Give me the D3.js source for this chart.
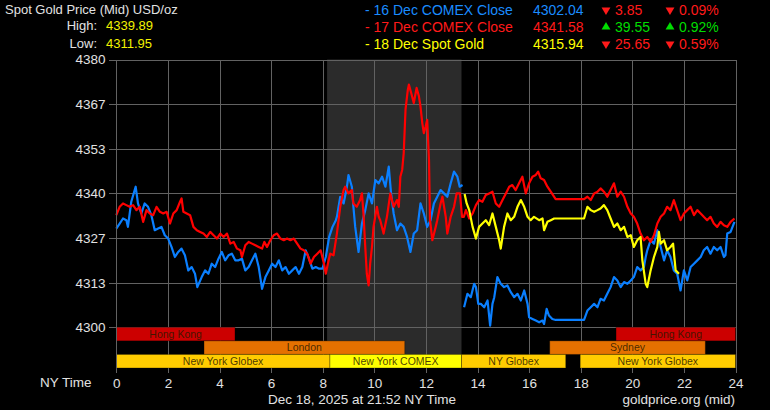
<!DOCTYPE html>
<html><head><meta charset="utf-8">
<script src="https://cdn.jsdelivr.net/npm/d3@7"></script>
<style>
html,body{margin:0;padding:0;background:#000;}
svg{display:block;}
text{font-family:"Liberation Sans",Arial,sans-serif;}
</style></head><body>
<svg id="c" width="770" height="410"></svg>
<script>
// ---------- DATA ----------
const hourTicks = [0,2,4,6,8,10,12,14,16,18,20,22,24];
const priceTicks = [4300, 4313.33, 4326.67, 4340, 4353.33, 4366.67, 4380];
const priceTickLabels = ["4300","4313","4327","4340","4353","4367","4380"];
const comexBand = [8.17, 13.38];

const hongKongRow = [["Hong Kong",0,4.6],["Hong Kong",19.37,24]];
const londonRow = [["London",3.4,11.18],["Sydney",16.8,22.83]];
const newYorkRow = [["New York Globex",0,8.28],["New York COMEX",8.28,13.38],["NY Globex",13.38,17.42],["New York Globex",17.98,24]];

const legendNames = ["- 16 Dec COMEX Close","- 17 Dec COMEX Close","- 18 Dec Spot Gold"];
const legendPrices = ["4302.04","4341.58","4315.94"];
const legendChanges = [-3.85, 39.55, -25.65];
const legendPercents = [-0.09, 0.92, -0.59];
const highLowLabels = ["High:","Low:"];
const highLowValues = ["4339.89","4311.95"];

// 16 Dec (blue) - two segments
const dec16a = [
[0.00,4329.5],[0.13,4331],[0.26,4332.5],[0.39,4332],[0.45,4330],[0.58,4337.5],[0.75,4342],[0.84,4337],[0.97,4334],[1.10,4337],[1.23,4336],[1.36,4333.5],[1.49,4329],[1.62,4329.5],[1.75,4330],[1.88,4327.5],[2.01,4326.5],[2.14,4324],[2.27,4321],[2.40,4322.5],[2.53,4323.5],[2.66,4321.5],[2.79,4317],[2.92,4318],[3.05,4316],[3.14,4312],[3.31,4315],[3.44,4317],[3.57,4316],[3.70,4319],[3.83,4318],[3.96,4320.5],[4.09,4322.5],[4.22,4320],[4.35,4321.5],[4.48,4322],[4.61,4320],[4.74,4320],[4.87,4320.5],[5.00,4317],[5.13,4318],[5.26,4320],[5.39,4322],[5.52,4318],[5.65,4311.5],[5.78,4315],[5.91,4317],[6.04,4319],[6.17,4318],[6.30,4320],[6.43,4317],[6.56,4318],[6.69,4316],[6.82,4317],[6.95,4318],[7.08,4316],[7.21,4318],[7.34,4323],[7.47,4320.5],[7.60,4317.5],[7.73,4318],[7.86,4317.5],[7.99,4317.5],[8.12,4321],[8.25,4327],[8.38,4330],[8.51,4332],[8.55,4333],[8.68,4339],[8.81,4337],[8.94,4342],[9.00,4345.5],[9.13,4342],[9.19,4336],[9.26,4330],[9.39,4322.5],[9.52,4331],[9.65,4335],[9.78,4340],[9.91,4337],[10.04,4344],[10.17,4343],[10.30,4345],[10.43,4342],[10.56,4348],[10.65,4340],[10.75,4334],[10.88,4329],[11.01,4331],[11.14,4330],[11.27,4327],[11.40,4322.5],[11.53,4328],[11.66,4329],[11.79,4337],[11.92,4334],[12.05,4330],[12.18,4332],[12.31,4337],[12.44,4339],[12.57,4341],[12.70,4340],[12.83,4339],[12.96,4343],[13.09,4346.5],[13.22,4345],[13.31,4342],[13.42,4342.5]
];
const dec16b = [
[13.48,4306],[13.61,4310],[13.74,4309],[13.87,4313],[13.94,4312],[14.03,4307],[14.13,4307],[14.26,4306],[14.39,4308],[14.49,4300.5],[14.58,4307],[14.65,4309],[14.77,4315],[14.90,4313],[15.03,4312],[15.16,4312.5],[15.29,4310.5],[15.42,4309],[15.55,4310],[15.68,4308],[15.81,4311],[15.94,4307],[16.00,4303],[16.13,4302.5],[16.26,4302],[16.39,4301.5],[16.52,4302],[16.58,4301],[16.68,4305.5],[16.77,4303.5],[16.90,4302.5],[17.03,4302.2],[18.13,4302.2],[18.26,4305],[18.39,4306],[18.52,4307],[18.65,4306],[18.77,4308.5],[18.90,4308],[19.03,4310],[19.16,4312],[19.29,4315],[19.42,4314],[19.55,4312],[19.68,4313.5],[19.81,4313],[19.94,4314],[20.06,4315],[20.19,4318],[20.32,4317],[20.45,4318],[20.52,4321],[20.58,4323],[20.71,4326],[20.84,4325],[20.97,4329],[21.03,4326],[21.10,4324],[21.23,4320],[21.35,4323],[21.48,4321],[21.61,4317],[21.74,4316],[21.87,4311],[22.00,4317],[22.13,4314],[22.26,4318],[22.39,4319],[22.52,4320],[22.65,4321],[22.77,4323],[22.90,4324],[23.03,4322],[23.16,4324],[23.29,4323],[23.42,4324],[23.55,4321],[23.61,4321.5],[23.68,4328],[23.81,4328.5],[23.96,4331.5]
];
// 17 Dec (red)
const dec17 = [
[0.00,4333.5],[0.13,4336],[0.26,4337],[0.39,4336.5],[0.52,4336],[0.65,4336.5],[0.78,4335],[0.91,4336],[1.04,4331.5],[1.17,4335],[1.30,4334],[1.43,4333.5],[1.56,4336],[1.69,4334.5],[1.82,4334],[1.95,4334.5],[2.08,4331],[2.21,4334],[2.34,4335],[2.47,4337.5],[2.53,4338.5],[2.60,4334.5],[2.73,4334],[2.86,4333.5],[2.99,4330],[3.12,4329],[3.25,4328.5],[3.38,4328],[3.51,4327],[3.64,4328.5],[3.77,4327.5],[3.90,4326.5],[4.03,4328],[4.16,4327],[4.29,4328],[4.42,4325],[4.55,4325.5],[4.68,4323.5],[4.81,4323],[4.87,4321],[5.00,4324.5],[5.13,4325.5],[5.26,4325],[5.39,4324.5],[5.52,4324],[5.65,4323.5],[5.74,4325.5],[5.84,4324],[5.97,4326],[6.10,4327.5],[6.23,4328],[6.36,4326.5],[6.49,4326],[6.62,4326.5],[6.75,4326],[6.88,4326.5],[7.01,4325],[7.14,4323.5],[7.27,4323],[7.40,4322],[7.53,4319],[7.66,4321],[7.79,4322],[7.92,4323],[8.05,4319],[8.12,4316],[8.20,4319],[8.29,4322],[8.42,4321.5],[8.55,4328],[8.68,4336],[8.81,4341],[8.87,4342],[9.00,4340],[9.13,4341],[9.19,4337],[9.32,4336],[9.45,4338],[9.52,4340],[9.58,4334],[9.65,4324],[9.71,4316],[9.78,4312.5],[9.84,4319],[9.91,4324],[9.97,4330],[10.10,4336],[10.17,4333],[10.23,4332],[10.36,4328],[10.49,4333],[10.62,4340],[10.75,4336],[10.88,4338],[10.95,4336],[11.01,4345],[11.08,4347],[11.14,4352],[11.21,4365],[11.30,4371],[11.34,4372.5],[11.43,4370],[11.53,4367],[11.64,4371.5],[11.73,4369],[11.79,4366],[11.86,4361],[11.92,4358],[11.99,4360],[12.05,4362],[12.12,4350],[12.16,4332],[12.25,4326],[12.38,4330],[12.44,4332],[12.57,4337],[12.64,4339],[12.77,4333],[12.83,4328],[12.96,4333],[13.09,4336],[13.19,4340],[13.32,4340],[13.40,4333],[13.47,4333],[13.55,4335],[13.68,4332.5],[13.81,4334],[13.94,4336.5],[14.06,4338],[14.19,4337.5],[14.32,4339.5],[14.45,4340],[14.58,4340.5],[14.71,4337],[14.84,4336],[14.97,4338],[15.10,4340],[15.23,4342],[15.35,4342.5],[15.48,4341],[15.61,4343],[15.74,4345],[15.87,4340],[16.00,4343],[16.13,4345],[16.26,4345.5],[16.35,4346.5],[16.45,4344.5],[16.58,4344],[16.71,4342],[16.84,4340.5],[17.03,4338.3],[18.13,4338.3],[18.26,4339],[18.39,4338],[18.52,4340],[18.65,4340.5],[18.77,4341.5],[18.90,4340.5],[19.03,4339],[19.16,4341],[19.29,4343],[19.42,4339],[19.55,4340.5],[19.68,4339],[19.81,4336],[19.94,4334],[20.06,4333],[20.19,4331],[20.32,4328],[20.45,4326],[20.58,4327],[20.71,4325.5],[20.84,4327.5],[20.97,4331],[21.10,4333],[21.23,4334],[21.35,4336],[21.48,4335],[21.61,4338],[21.74,4335],[21.87,4332],[22.00,4334],[22.13,4335],[22.26,4336],[22.39,4333.5],[22.52,4335],[22.65,4334],[22.77,4333],[22.90,4332],[23.03,4333],[23.16,4331],[23.29,4330],[23.42,4331.5],[23.55,4330.5],[23.68,4330],[23.81,4331.5],[23.96,4332.5]
];
// 18 Dec (yellow)
const dec18 = [
[13.50,4339.8],[13.58,4337],[13.68,4335],[13.81,4330],[13.94,4326.5],[14.06,4330],[14.19,4331],[14.32,4332],[14.45,4330.5],[14.58,4334],[14.71,4330],[14.84,4326],[14.90,4323.5],[15.03,4330],[15.16,4334],[15.29,4332],[15.42,4333],[15.55,4336],[15.68,4338],[15.81,4336],[15.94,4333],[16.06,4332],[16.19,4333],[16.39,4332],[16.52,4332.5],[16.58,4329],[16.71,4331.5],[16.84,4332],[16.97,4332.5],[18.13,4332.5],[18.26,4336],[18.39,4335],[18.52,4334.5],[18.65,4335],[18.77,4335.5],[18.90,4336.5],[19.03,4335],[19.16,4332.5],[19.29,4330],[19.42,4331],[19.55,4329],[19.68,4330],[19.81,4327],[19.94,4327.5],[20.06,4324],[20.19,4326],[20.32,4327],[20.39,4320],[20.52,4313],[20.58,4312],[20.71,4317],[20.84,4321],[20.97,4324],[21.03,4328.5],[21.10,4325],[21.23,4326],[21.35,4323],[21.48,4324],[21.58,4325],[21.68,4317],[21.81,4316]
];

// ---------- DRAW ----------
const svg = d3.select("#c");
svg.append("rect").attr("width",770).attr("height",410).attr("fill","#000");

const x = d3.scaleLinear().domain([0,24]).range([116.3,735.5]);
const y = d3.scaleLinear().domain([4300,4380]).range([327.3,59.5]);
const plotTop = 59.5, plotBottom = 368;
const gridColor = "#626262";
const textColor = "#e2e2e2";

// COMEX band
svg.append("rect")
  .attr("x", x(comexBand[0])).attr("width", x(comexBand[1]) - x(comexBand[0]))
  .attr("y", plotTop).attr("height", plotBottom - plotTop)
  .attr("fill", "#2b2b2b");

// grid
const grid = svg.append("g").attr("stroke", gridColor).attr("stroke-width", 1).attr("shape-rendering","crispEdges");
grid.selectAll(".v").data(hourTicks).join("line")
  .attr("x1", d => Math.round(x(d))+0.5).attr("x2", d => Math.round(x(d))+0.5)
  .attr("y1", plotTop).attr("y2", plotBottom);
grid.selectAll(".h").data(priceTicks).join("line")
  .attr("x1", x(0)).attr("x2", x(24))
  .attr("y1", d => Math.round(y(d))+0.5).attr("y2", d => Math.round(y(d))+0.5);

// axes
const yAxis = d3.axisLeft(y).tickValues(priceTicks).tickFormat((d,i)=>priceTickLabels[i]).tickSize(8).tickPadding(3);
const gy = svg.append("g").attr("transform", `translate(${Math.round(x(0))+0.5},0)`).call(yAxis);
gy.select(".domain").remove();
gy.selectAll("line").attr("stroke", gridColor).attr("shape-rendering","crispEdges");
gy.selectAll("text").attr("fill", textColor).style("font-size","13.5px").style("font-family",'"Liberation Sans",Arial,sans-serif');

const xAxis = d3.axisBottom(x).tickValues(hourTicks).tickSize(5).tickPadding(5);
const gx = svg.append("g").attr("transform", `translate(0,${plotBottom})`).call(xAxis);
gx.select(".domain").remove();
gx.selectAll("line").attr("stroke", gridColor).attr("shape-rendering","crispEdges");
gx.selectAll("text").attr("fill", textColor).style("font-size","13.5px").style("font-family",'"Liberation Sans",Arial,sans-serif');

// lines
const line = d3.line().x(d => x(d[0])).y(d => y(d[1]));
const series = [
  {data: dec16a, color: "#0a7fff"},
  {data: dec16b, color: "#0a7fff"},
  {data: dec17, color: "#ff0000"},
  {data: dec18, color: "#ffff00"}
];
svg.append("g").selectAll("path").data(series).join("path")
  .attr("d", d => line(d.data))
  .attr("fill","none").attr("stroke", d => d.color)
  .attr("stroke-width", 2.2).attr("stroke-linejoin","round");

// session bars
const rowScale = d3.scaleBand().domain(["hk","ldn","ny"]).range([327.3, 368]).paddingInner(0);
const sessionColor = {"Hong Kong":"#cc0000","London":"#e57100","Sydney":"#e57100","New York Globex":"#ffcc00","NY Globex":"#ffcc00","New York COMEX":"#ffff00"};
const rows = [["hk",hongKongRow],["ldn",londonRow],["ny",newYorkRow]];
rows.forEach(([key, items]) => {
  const g = svg.append("g");
  g.selectAll("rect").data(items).join("rect")
    .attr("x", d => x(d[1])).attr("width", d => x(d[2]) - x(d[1]))
    .attr("y", rowScale(key)).attr("height", rowScale.bandwidth())
    .attr("fill", d => sessionColor[d[0]])
    .attr("stroke", "rgba(0,0,0,0.3)").attr("stroke-width", 1);
  g.selectAll("text").data(items).join("text")
    .attr("x", d => (x(d[1]) + x(d[2]))/2)
    .attr("y", rowScale(key) + rowScale.bandwidth()/2 + 3.6)
    .attr("text-anchor","middle")
    .attr("fill","#2a1a00").attr("fill-opacity",0.85)
    .style("font-size","10.5px")
    .text(d => d[0]);
});

// left axis line
svg.append("line").attr("x1", Math.round(x(0))+0.5).attr("x2", Math.round(x(0))+0.5)
  .attr("y1", plotTop).attr("y2", plotBottom).attr("stroke", gridColor).attr("shape-rendering","crispEdges");

// header
svg.append("text").attr("x",5).attr("y",13.5).attr("fill",textColor).style("font-size","13px").text("Spot Gold Price (Mid) USD/oz");
highLowLabels.forEach((t,i) => {
  svg.append("text").attr("x",97).attr("y",29.5 + i*18.5).attr("text-anchor","end").attr("fill",textColor).style("font-size","13px").text(t);
  svg.append("text").attr("x",106).attr("y",29.5 + i*18.5).attr("fill","#f2f200").style("font-size","13px").text(highLowValues[i]);
});

// legend
const legendColors = ["#1a8cff","#ff1a1a","#ffff00"];
const upColor = "#00dd00", downColor = "#ff1a1a";
const tri = d3.symbol().type(d3.symbolTriangle).size(34);
legendNames.forEach((name,i) => {
  const by = 15 + i*17;
  svg.append("text").attr("x",365).attr("y",by).attr("fill",legendColors[i]).style("font-size","14px").text(name);
  svg.append("text").attr("x",533).attr("y",by).attr("fill",legendColors[i]).style("font-size","14px").text(legendPrices[i]);
  const ch = legendChanges[i], pc = legendPercents[i];
  const col = ch < 0 ? downColor : upColor;
  const rot = ch < 0 ? 180 : 0;
  svg.append("path").attr("d", tri()).attr("fill", col)
    .attr("transform", `translate(606,${by-5}) rotate(${rot})`);
  svg.append("text").attr("x",615).attr("y",by).attr("fill",col).style("font-size","14px").text(Math.abs(ch).toFixed(2));
  svg.append("path").attr("d", tri()).attr("fill", col)
    .attr("transform", `translate(670,${by-5}) rotate(${rot})`);
  svg.append("text").attr("x",679).attr("y",by).attr("fill",col).style("font-size","14px").text(Math.abs(pc).toFixed(2) + "%");
});

// footer
svg.append("text").attr("x",40).attr("y",387).attr("fill",textColor).style("font-size","13.5px").text("NY Time");
svg.append("text").attr("x",268).attr("y",404).attr("fill",textColor).style("font-size","13.5px").text("Dec 18, 2025 at 21:52 NY Time");
svg.append("text").attr("x",735).attr("y",404).attr("text-anchor","end").attr("fill",textColor).style("font-size","13.5px").text("goldprice.org (mid)");
</script>
</body></html>
